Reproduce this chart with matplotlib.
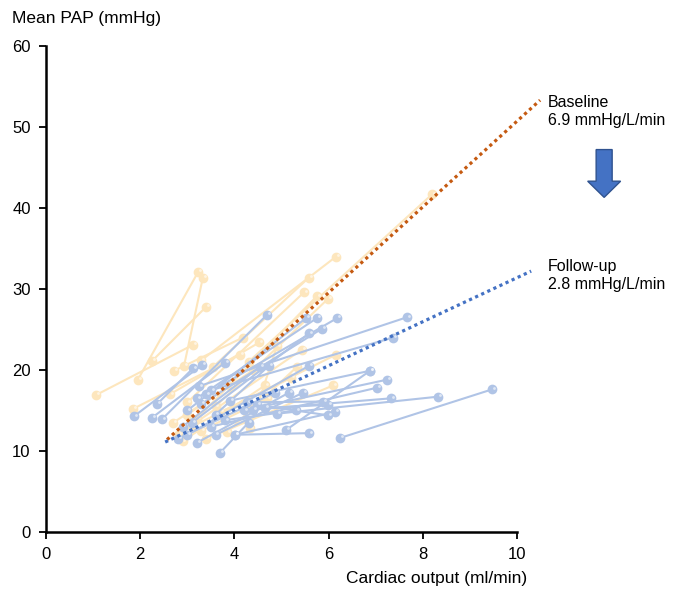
import matplotlib.pyplot as plt
from matplotlib.patches import FancyArrow

# baseline segments: rest -> exercise (cardiac output, mean PAP)
base_x0 = [1.06, 1.95, 2.93, 2.25, 1.85, 2.63, 2.72, 3.55, 3.30, 4.30, 3.00, 3.20,
           3.60, 2.80, 3.10, 3.40, 2.90, 3.84, 4.33, 3.30, 2.70, 3.70, 3.00]
base_y0 = [16.9, 18.8, 20.5, 21.1, 15.2, 17.0, 19.9, 20.4, 21.2, 21.0, 16.0, 14.0,
           15.5, 12.0, 13.0, 11.5, 11.2, 12.3, 12.8, 12.5, 13.5, 14.8, 14.5]
base_x1 = [3.12, 3.23, 3.33, 3.40, 4.12, 4.53, 4.18, 5.58, 6.16, 8.20, 5.48, 5.75,
           5.99, 5.43, 6.16, 6.10, 4.65, 5.33, 4.90, 4.70, 3.90, 5.20, 4.40]
base_y1 = [23.1, 32.1, 31.4, 27.8, 21.9, 23.4, 24.0, 31.4, 34.0, 41.7, 29.6, 29.1,
           28.8, 22.5, 21.9, 18.1, 18.1, 20.4, 22.9, 16.5, 18.0, 19.0, 20.0]

# follow-up segments
fu_x0 = [1.87, 2.36, 2.25, 2.46, 3.00, 3.20, 3.40, 3.10, 3.30, 3.50, 3.25, 2.90,
         3.60, 3.00, 3.90, 4.20, 3.50, 4.40, 4.90, 6.24, 4.26, 4.65, 4.48, 4.01,
         5.10, 3.69, 2.80, 3.20, 3.60, 3.80, 4.01]
fu_y0 = [14.3, 15.8, 14.1, 13.9, 15.0, 16.5, 17.0, 13.5, 15.8, 17.5, 18.0, 13.0,
         14.5, 12.0, 16.2, 15.0, 13.0, 15.1, 14.6, 11.6, 16.0, 15.3, 15.7, 12.0,
         12.6, 9.75, 11.5, 11.0, 12.0, 13.8, 12.0]
fu_x1 = [3.31, 3.12, 3.80, 4.69, 5.52, 5.75, 6.18, 5.58, 5.86, 7.37, 7.66, 4.54,
         4.73, 5.58, 6.88, 7.24, 7.02, 7.33, 8.32, 9.47, 5.88, 5.99, 5.99, 6.14,
         6.88, 4.30, 4.86, 5.16, 5.46, 5.30, 5.58]
fu_y1 = [20.6, 20.2, 20.9, 26.8, 26.4, 26.4, 26.4, 24.5, 25.1, 24.0, 26.5, 20.4,
         20.5, 20.5, 19.9, 18.8, 17.8, 16.5, 16.7, 17.6, 16.1, 15.7, 14.4, 14.8,
         19.9, 13.5, 17.2, 17.2, 17.2, 15.0, 12.2]

# regression lines (ends)
base_fit_x = [2.57, 10.49]
base_fit_y = [11.4, 53.3]
fu_fit_x = [2.53, 10.30]
fu_fit_y = [11.1, 32.2]

x_ticks = [0, 2, 4, 6, 8, 10]
y_ticks = [0, 10, 20, 30, 40, 50, 60]

ORANGE_LIGHT = '#FDE6BD'
BLUE_LIGHT = '#B0C4E6'
ORANGE = '#C55A11'
BLUE = '#4472C4'

plt.rcParams['font.family'] = ['Liberation Sans', 'DejaVu Sans']

fig = plt.figure(figsize=(6.9, 5.89), dpi=100)
ax = fig.add_axes([0.0667, 0.0968, 0.6826, 0.8253])


def draw_pairs(x0, y0, x1, y1, color, z):
    for a, b, c, d in zip(x0, y0, x1, y1):
        ax.plot([a, c], [b, d], color=color, lw=1.5, zorder=z,
                marker='o', markersize=7, markeredgewidth=0)
        ax.plot([a + 0.04, c + 0.04], [b + 0.2, d + 0.2], ls='none',
                marker='o', markersize=2, color='white', alpha=0.6,
                markeredgewidth=0, zorder=z + 0.1)


draw_pairs(base_x0, base_y0, base_x1, base_y1, ORANGE_LIGHT, 2)
draw_pairs(fu_x0, fu_y0, fu_x1, fu_y1, BLUE_LIGHT, 3)

ax.plot(base_fit_x, base_fit_y, color=ORANGE, lw=2.3, ls=(0, (1, 1.1)),
        clip_on=False, zorder=5)
ax.plot(fu_fit_x, fu_fit_y, color=BLUE, lw=2.3, ls=(0, (1, 1.1)),
        clip_on=False, zorder=5)

ax.set_xlim(0, 10)
ax.set_ylim(0, 60)
ax.set_xticks(x_ticks)
ax.set_yticks(y_ticks)
for s in ['top', 'right']:
    ax.spines[s].set_visible(False)
for s in ['left', 'bottom']:
    ax.spines[s].set_linewidth(1.8)
ax.tick_params(axis='both', direction='out', length=5, width=1.3,
               labelsize=12, pad=6)

fig.text(12 / 690, 1 - 18 / 589, 'Mean PAP (mmHg)', fontsize=12.5,
         ha='left', va='center')
fig.text(527 / 690, 1 - 578 / 589, 'Cardiac output (ml/min)', fontsize=12.5,
         ha='right', va='center')

ax.text(10.66, 51.9, 'Baseline\n6.9 mmHg/L/min', fontsize=11.5, ha='left',
        va='center', linespacing=1.25)
ax.text(10.66, 31.6, 'Follow-up\n2.8 mmHg/L/min', fontsize=11.5, ha='left',
        va='center', linespacing=1.25)

arrow = FancyArrow(11.85, 47.2, 0, -5.9, width=0.34, head_width=0.7,
                   head_length=2.0, length_includes_head=True,
                   facecolor=BLUE, edgecolor='#2F528F', lw=1, clip_on=False)
ax.add_patch(arrow)

fig.savefig('out.png', dpi=100)
